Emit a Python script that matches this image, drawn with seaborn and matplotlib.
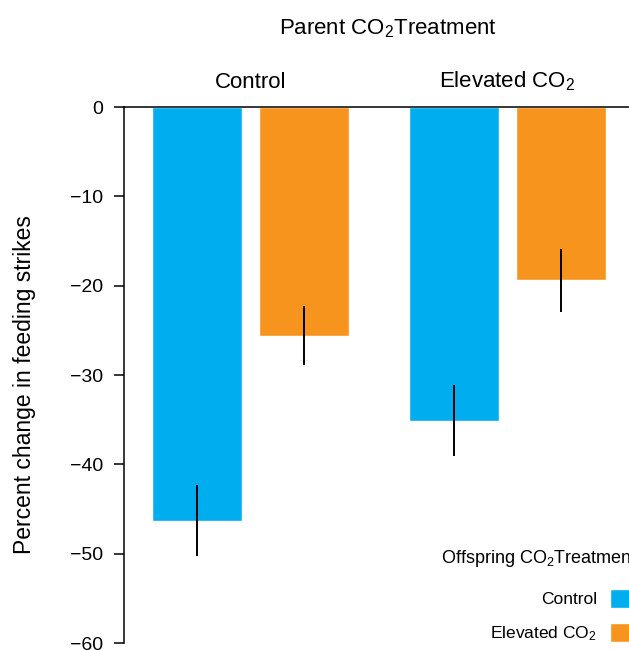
import matplotlib
matplotlib.use("Agg")
import matplotlib.pyplot as plt
import seaborn as sns
import pandas as pd

# Feeding-strike response by parent and offspring CO2 treatment
parent_treatment = ["Control", "Control", "Elevated CO$_2$", "Elevated CO$_2$"]
offspring_treatment = ["Control", "Elevated CO$_2$", "Control", "Elevated CO$_2$"]
pct_change = [-46.3, -25.6, -35.1, -19.4]
sem = [3.95, 3.3, 4.0, 3.55]

parent_order = ["Control", "Elevated CO$_2$"]
offspring_order = ["Control", "Elevated CO$_2$"]
colors = ["#00AEEF", "#F7941D"]
y_ticks = [0, -10, -20, -30, -40, -50, -60]

df = pd.DataFrame({
    "parent": parent_treatment,
    "offspring": offspring_treatment,
    "change": pct_change,
    "sem": sem,
})

sns.set_style("white")
plt.rcParams["font.family"] = ["Liberation Sans", "DejaVu Sans"]
plt.rcParams["mathtext.default"] = "regular"
for key in ["text.color", "axes.labelcolor", "xtick.color", "ytick.color",
            "xtick.labelcolor", "ytick.labelcolor"]:
    plt.rcParams[key] = "black"

fig = plt.figure(figsize=(6.29, 6.5), dpi=100)
ax = fig.add_axes([124 / 629, 7 / 650, 512 / 629, 536 / 650])

sns.barplot(
    data=df, x="parent", y="change", hue="offspring",
    order=parent_order, hue_order=offspring_order,
    palette=colors, errorbar=None, width=0.835, gap=0.16,
    saturation=1, ax=ax,
)

# error bars (mean ± s.e.m.), one container per offspring treatment
for hue_level, container in zip(offspring_order, ax.containers):
    for par, bar in zip(parent_order, container):
        row = df[(df["parent"] == par) & (df["offspring"] == hue_level)].iloc[0]
        xc = bar.get_x() + bar.get_width() / 2
        ax.vlines(xc, row["change"] - row["sem"], row["change"] + row["sem"],
                  color="black", lw=1.4, zorder=5)

ax.set_ylim(-60, 0)
ax.set_yticks(y_ticks)
ax.set_yticklabels([f"{t}".replace("-", "\u2212") for t in y_ticks], fontsize=14)
ax.set_xlim(-0.494, 1.5)

ax.xaxis.set_ticks_position("top")
ax.xaxis.set_label_position("top")
ax.tick_params(axis="x", top=True, bottom=False, labeltop=True, labelbottom=False,
               length=0, pad=10, labelsize=16)
ax.tick_params(axis="y", left=True, length=7.2, width=1.1, pad=8, color="black",
               labelcolor="black")
ax.set_xlabel("")

for side in ["bottom", "right"]:
    ax.spines[side].set_visible(False)
for side in ["top", "left"]:
    ax.spines[side].set_visible(True)
    ax.spines[side].set_color("black")
    ax.spines[side].set_linewidth(1.1)

ax.set_ylabel("Percent change in feeding strikes", fontsize=16.5)
ax.yaxis.set_label_coords(-0.172, 0.483)

fig.text(388 / 629, 1 - 34 / 650, "Parent CO$_2$Treatment", ha="center",
         va="baseline", fontsize=16)

sns.move_legend(
    ax, loc="lower right", bbox_to_anchor=(638 / 629, 7 / 650),
    bbox_transform=fig.transFigure, title="Offspring CO$_2$Treatment",
    markerfirst=False, frameon=False, alignment="right",
    fontsize=12.5, title_fontsize=13, handlelength=1.6, handleheight=1.3,
    handletextpad=0.75, labelspacing=0.86, borderpad=0, borderaxespad=0,
)
leg = ax.get_legend()
# extra room between the legend title and its entries
leg._legend_box.sep = 14.5

fig.savefig("out.png", dpi=100)
